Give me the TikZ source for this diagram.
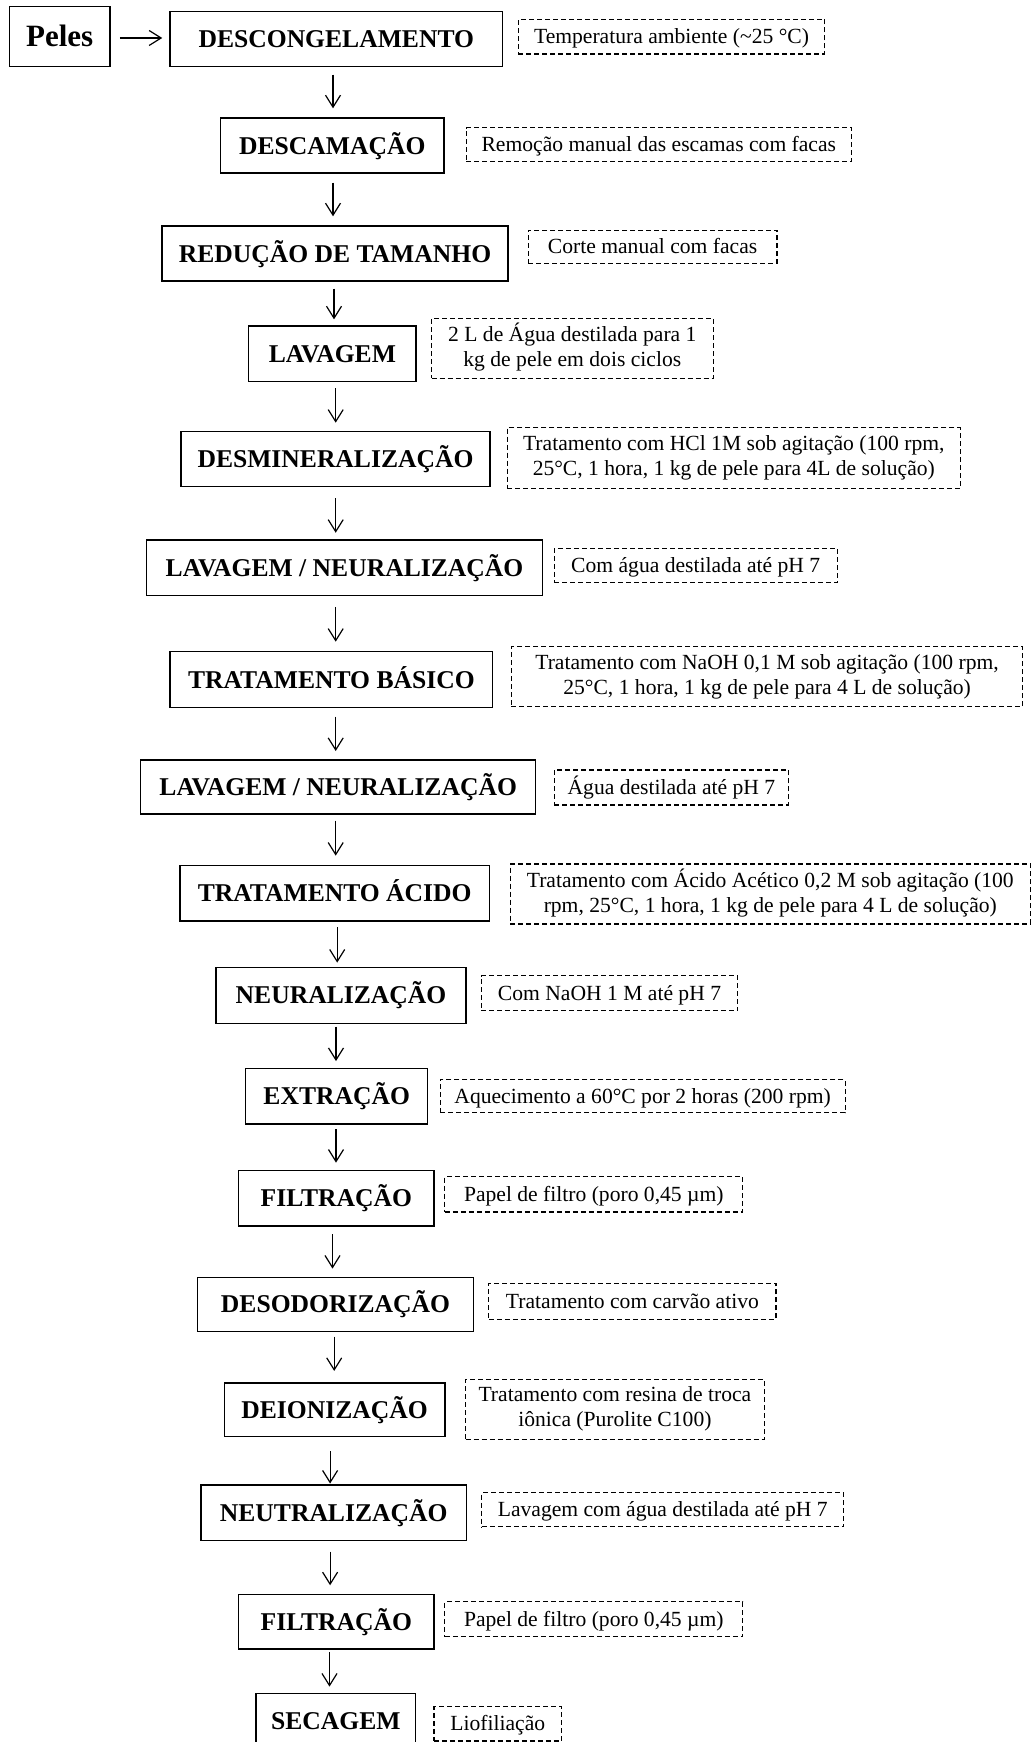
\documentclass[tikz,border=0pt]{standalone}
\usepackage{fontspec}
\setmainfont{Liberation Serif}
\usetikzlibrary{arrows.meta}
\begin{document}
\begin{tikzpicture}[x=1pt,y=-1pt,
  mainbox/.style={draw, line width=1.4pt, inner sep=0pt, align=center,
    font=\fontsize{25.6}{30}\selectfont\bfseries, text height=17pt, text depth=0pt,
    minimum height=55pt},
  notebase/.style={draw, dash pattern=on 5pt off 3pt, line width=1.1pt, inner sep=0pt,
    font=\fontsize{21.6}{25}\selectfont},
  note/.style={notebase, text height=14.3pt, text depth=0pt, minimum height=34pt},
  notetwo/.style={notebase, minimum height=60pt},
  arr/.style 2 args={-{Straight Barb[length=12pt,width=15pt,line width=1.2pt]},
    line width=1.2pt, shorten <=#1, shorten >=#2}
]
\useasboundingbox (0,0) rectangle (1033,1742);
\clip (0,0) rectangle (1033,1742);
\renewcommand{\arraystretch}{1}\setlength{\tabcolsep}{0pt}

% main boxes
\node[mainbox, font=\fontsize{31}{35}\selectfont\bfseries, text height=20.5pt,
  minimum width=100.7pt, minimum height=60pt] (peles) at (59.7,36.7) {Peles};
\node[mainbox, minimum width=332.7pt] (desc) at (336.3,39.2) {DESCONGELAMENTO};
\node[mainbox, minimum width=223.3pt] (descam) at (332.3,145.5) {DESCAMAÇÃO};
\node[mainbox, minimum width=346pt] (red) at (335,253.5) {REDUÇÃO DE TAMANHO};
\node[mainbox, minimum width=167.3pt, minimum height=55.7pt] (lav) at (332.4,353.9) {LAVAGEM};
\node[mainbox, minimum width=309pt, minimum height=55pt] (desmin) at (335.5,459.2) {DESMINERALIZAÇÃO};
\node[mainbox, minimum width=395.6pt, minimum height=55.7pt] (lna) at (344.5,567.9) {LAVAGEM / NEURALIZAÇÃO};
\node[mainbox, minimum width=322.7pt, minimum height=55.6pt] (tb) at (331.4,679.5) {TRATAMENTO BÁSICO};
\node[mainbox, minimum width=395pt, minimum height=54pt] (lnb) at (338.2,787) {LAVAGEM / NEURALIZAÇÃO};
\node[mainbox, minimum width=309.3pt, minimum height=55.3pt] (ta) at (334.7,893.3) {TRATAMENTO ÁCIDO};
\node[mainbox, minimum width=250.3pt, minimum height=56pt] (neu) at (341,995.3) {NEURALIZAÇÃO};
\node[mainbox, minimum width=181.9pt, minimum height=55.7pt] (ext) at (336.7,1096.2) {EXTRAÇÃO};
\node[mainbox, minimum width=195.6pt, minimum height=55.7pt] (fila) at (336.3,1198.2) {FILTRAÇÃO};
\node[mainbox, minimum width=275.9pt, minimum height=54pt] (des) at (335.5,1304.3) {DESODORIZAÇÃO};
\node[mainbox, minimum width=220.5pt, minimum height=53.7pt] (dei) at (334.6,1409.8) {DEIONIZAÇÃO};
\node[mainbox, minimum width=265.1pt, minimum height=55.7pt] (neut) at (333.7,1512.8) {NEUTRALIZAÇÃO};
\node[mainbox, minimum width=195.6pt, minimum height=54.3pt] (filb) at (336.3,1621.8) {FILTRAÇÃO};
\node[mainbox, minimum width=159.7pt] (sec) at (335.9,1720.8) {SECAGEM};

% notes
\node[note, minimum width=306.3pt, minimum height=34.7pt] (n1) at (671.5,36.7) {Temperatura ambiente (\textasciitilde25 °C)};
\node[note, minimum width=385.5pt, minimum height=33.6pt] (n2) at (658.8,144.5) {Remoção manual das escamas com facas};
\node[note, minimum width=248.8pt, minimum height=33.3pt] (n3) at (652.6,246.7) {Corte manual com facas};
\node[notetwo, minimum width=281.5pt] (n4) at (572.3,348.3) {\begin{tabular}{c}2 L de Água destilada para 1\\kg de pele em dois ciclos\end{tabular}};
\node[notetwo, minimum width=453pt, minimum height=61pt] (n5) at (733.8,458.2) {\begin{tabular}{c}Tratamento com HCl 1M sob agitação (100 rpm,\\25°C, 1 hora, 1 kg de pele para 4L de solução)\end{tabular}};
\node[note, minimum width=283pt, minimum height=34.4pt] (n6) at (695.7,565.5) {Com água destilada até pH 7};
\node[notetwo, minimum width=511.3pt] (n7) at (767.1,676.7) {\begin{tabular}{c}Tratamento com NaOH 0,1 M sob agitação (100 rpm,\\25°C, 1 hora, 1 kg de pele para 4 L de solução)\end{tabular}};
\node[note, minimum width=234.3pt, minimum height=35pt] (n8) at (671.4,787.5) {Água destilada até pH 7};
\node[notetwo, minimum width=520.2pt] (n9) at (770.3,894) {\begin{tabular}{c}Tratamento com Ácido Acético 0,2 M sob agitação (100\\rpm, 25°C, 1 hora, 1 kg de pele para 4 L de solução)\end{tabular}};
\node[note, minimum width=256.8pt, minimum height=35pt] (n10) at (609.5,993.2) {Com NaOH 1 M até pH 7};
\node[note, minimum width=404.9pt, minimum height=33.4pt] (n11) at (642.6,1096) {Aquecimento a 60°C por 2 horas (200 rpm)};
\node[note, minimum width=297.9pt, minimum height=35.3pt] (n12) at (593.8,1194.3) {Papel de filtro (poro 0,45 µm)};
\node[note, minimum width=287.2pt, minimum height=35.7pt] (n13) at (632.4,1301.2) {Tratamento com carvão ativo};
\node[notetwo, minimum width=298.5pt] (n14) at (614.9,1409.3) {\begin{tabular}{c}Tratamento com resina de troca\\iônica (Purolite C100)\end{tabular}};
\node[note, minimum width=362.1pt, minimum height=34pt] (n15) at (662.8,1509.7) {Lavagem com água destilada até pH 7};
\node[note, minimum width=297.9pt, minimum height=35pt] (n16) at (593.8,1619.2) {Papel de filtro (poro 0,45 µm)};
\node[note, minimum width=127.7pt, minimum height=34.3pt] (n17) at (497.8,1723.8) {Liofiliação};

% arrow columns
\coordinate (k0) at (0,38);
\coordinate (k1) at (333,0);
\coordinate (k2) at (333,0);
\coordinate (k3) at (334,0);
\coordinate (k4) at (335.7,0);
\coordinate (k5) at (335.7,0);
\coordinate (k6) at (335.7,0);
\coordinate (k7) at (335.7,0);
\coordinate (k8) at (335.7,0);
\coordinate (k9) at (337.2,0);
\coordinate (k10) at (336,0);
\coordinate (k11) at (336,0);
\coordinate (k12) at (332.5,0);
\coordinate (k13) at (334.2,0);
\coordinate (k14) at (330.1,0);
\coordinate (k15) at (330.1,0);
\coordinate (k16) at (329.5,0);

\draw[arr={9pt}{7pt}] (peles.east |- k0) -- (desc.west |- k0);
\draw[arr={7.3pt}{9pt}] (desc.south -| k1) -- (descam.north -| k1);
\draw[arr={9pt}{9pt}] (descam.south -| k2) -- (red.north -| k2);
\draw[arr={7pt}{6pt}] (red.south -| k3) -- (lav.north -| k3);
\draw[arr={6pt}{8.3pt}] (lav.south -| k4) -- (desmin.north -| k4);
\draw[arr={10.6pt}{6.6pt}] (desmin.south -| k5) -- (lna.north -| k5);
\draw[arr={10.3pt}{9.3pt}] (lna.south -| k6) -- (tb.north -| k6);
\draw[arr={8.7pt}{8.3pt}] (tb.south -| k7) -- (lnb.north -| k7);
\draw[arr={6pt}{9.3pt}] (lnb.south -| k8) -- (ta.north -| k8);
\draw[arr={5.7pt}{4pt}] (ta.south -| k9) -- (neu.north -| k9);
\draw[arr={2.7pt}{6.6pt}] (neu.south -| k10) -- (ext.north -| k10);
\draw[arr={4.3pt}{7pt}] (ext.south -| k11) -- (fila.north -| k11);
\draw[arr={7.3pt}{8pt}] (fila.south -| k12) -- (des.north -| k12);
\draw[arr={4.7pt}{11.3pt}] (des.south -| k13) -- (dei.north -| k13);
\draw[arr={14pt}{0.7pt}] (dei.south -| k14) -- (neut.north -| k14);
\draw[arr={10.3pt}{8.7pt}] (neut.south -| k15) -- (filb.north -| k15);
\draw[arr={2.7pt}{6pt}] (filb.south -| k16) -- (sec.north -| k16);
\end{tikzpicture}
\end{document}
